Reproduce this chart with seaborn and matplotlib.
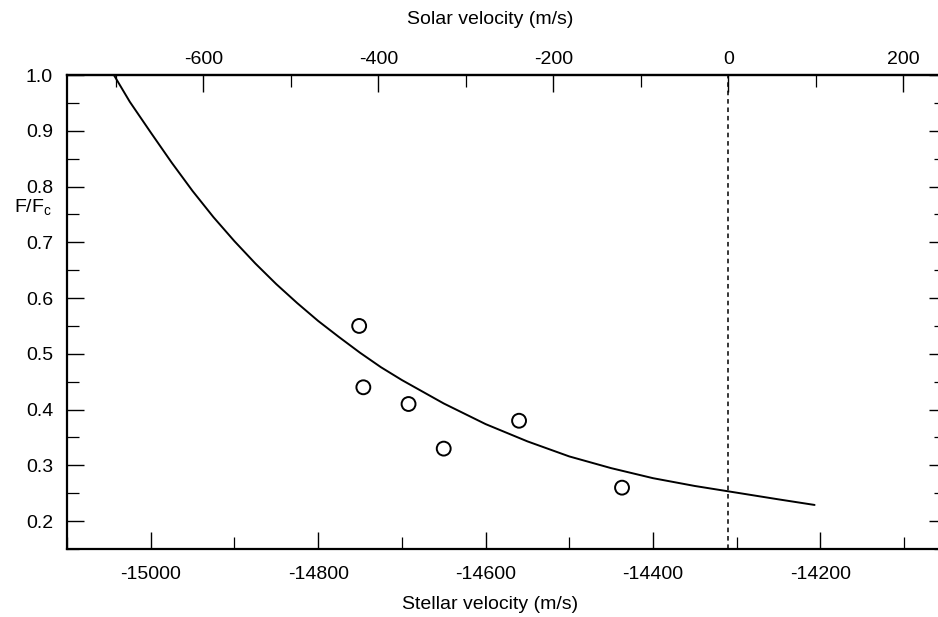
import matplotlib
matplotlib.use("Agg")
import matplotlib.pyplot as plt
import seaborn as sns
import pandas as pd
from matplotlib.ticker import MultipleLocator, FormatStrFormatter

# ---- data ----
curve_stellar = [-15044, -15025, -15000, -14975, -14950, -14925, -14900, -14875,
                 -14850, -14825, -14800, -14775, -14750, -14725, -14700, -14650,
                 -14600, -14550, -14500, -14450, -14400, -14350, -14300, -14250,
                 -14207]
curve_flux = [1.000, 0.952, 0.897, 0.843, 0.792, 0.745, 0.702, 0.662,
              0.625, 0.591, 0.559, 0.530, 0.502, 0.476, 0.453, 0.411,
              0.374, 0.343, 0.316, 0.295, 0.277, 0.263, 0.251, 0.239,
              0.229]

obs_stellar = [-14751, -14746, -14692, -14650, -14560, -14437]
obs_flux = [0.55, 0.44, 0.41, 0.33, 0.38, 0.26]

solar_zero_stellar = -14310      # stellar velocity where solar velocity = 0
solar_scale = 0.957               # solar m/s per stellar m/s

bottom_ticks = [-15000, -14800, -14600, -14400, -14200]
top_ticks = [-600, -400, -200, 0, 200]
y_ticks = [0.2, 0.3, 0.4, 0.5, 0.6, 0.7, 0.8, 0.9, 1.0]

curve_df = pd.DataFrame({"stellar": curve_stellar, "flux": curve_flux})
obs_df = pd.DataFrame({"stellar": obs_stellar, "flux": obs_flux})

sns.set_theme(style="ticks")
plt.rcParams["font.family"] = ["Liberation Sans", "DejaVu Sans"]
plt.rcParams["axes.unicode_minus"] = False
plt.rcParams["mathtext.default"] = "regular"

fig = plt.figure(figsize=(9.38, 6.17), dpi=100)
W, H = 938, 617
L, R, T, B = 67, 946, 75, 549
ax = fig.add_axes([L / W, (H - B) / H, (R - L) / W, (B - T) / H])

sns.lineplot(data=curve_df, x="stellar", y="flux", ax=ax, color="black",
             linewidth=1.4, sort=False, estimator=None)
sns.scatterplot(data=obs_df, x="stellar", y="flux", ax=ax, marker="o",
                s=100, facecolor="none", edgecolor="black", linewidth=1.4, zorder=5)
ax.axvline(solar_zero_stellar, color="black", linewidth=1.1, linestyle=(0, (3, 2.5)))

ax.set_xlim(-15100, -14050)
ax.set_ylim(0.15, 1.0)

ax.set_xticks(bottom_ticks)
ax.xaxis.set_minor_locator(MultipleLocator(100))
ax.set_yticks(y_ticks)
ax.yaxis.set_minor_locator(MultipleLocator(0.05))
ax.yaxis.set_major_formatter(FormatStrFormatter("%.1f"))

for sp in ax.spines.values():
    sp.set_visible(True)
    sp.set_linewidth(1.6)
    sp.set_color("black")

ax.tick_params(axis="both", which="major", direction="in", length=12, width=1.0,
               color="black", labelsize=14, labelcolor="black", pad=10)
ax.tick_params(axis="x", which="major", pad=12)
ax.tick_params(axis="both", which="minor", direction="in", length=8.5, width=0.9,
               color="black")
ax.tick_params(axis="x", which="both", top=False, bottom=True)
ax.tick_params(axis="y", which="both", left=True, right=True, labelright=False)

ax.set_xlabel("Stellar velocity (m/s)", fontsize=14, color="black")
ax.set_ylabel("")
ax.xaxis.set_label_coords(0.4812, -0.118)
ax.xaxis.label.set_va("center")


def to_solar(v):
    return (v - solar_zero_stellar) * solar_scale


def to_stellar(s):
    return s / solar_scale + solar_zero_stellar


sec = ax.secondary_xaxis("top", functions=(to_solar, to_stellar))
sec.set_xticks(top_ticks)
sec.xaxis.set_minor_locator(MultipleLocator(100))
sec.tick_params(which="major", direction="in", length=12, width=1.0, color="black",
                labelsize=14, labelcolor="black", pad=5)
sec.tick_params(which="minor", direction="in", length=8.5, width=0.9, color="black")
sec.spines["top"].set_linewidth(1.6)

fig.text(490 / W, 1 - 20 / H, "Solar velocity (m/s)", fontsize=14,
         ha="center", va="center", color="black")
fig.text(14 / W, 1 - 207 / H, "F/F$_{c}$", fontsize=14, ha="left", va="center",
         color="black")

fig.savefig("out.png", dpi=100, facecolor="white")
